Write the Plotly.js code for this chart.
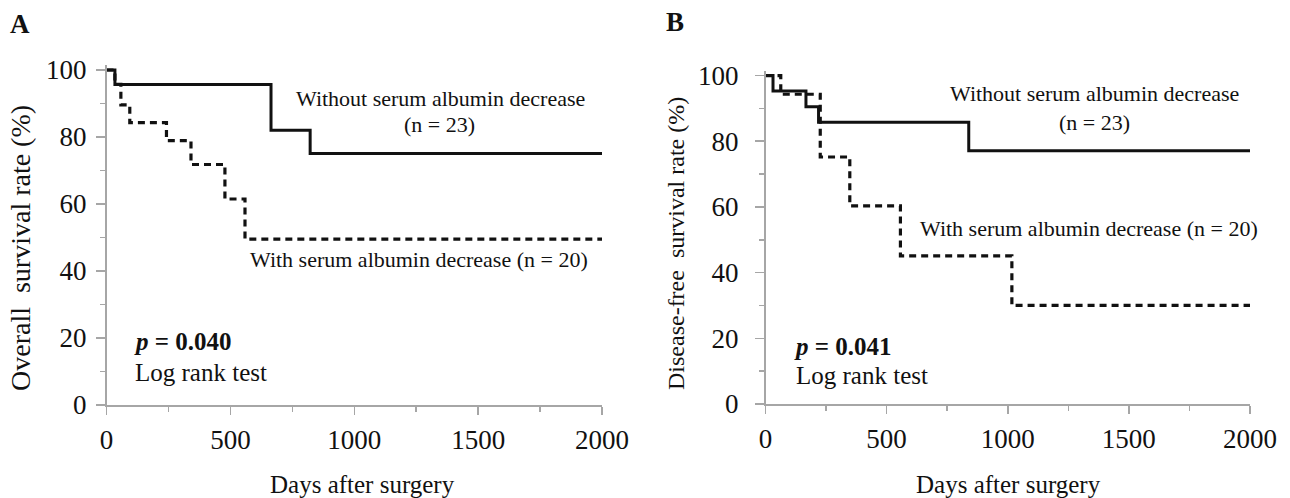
<!DOCTYPE html>
<html>
<head>
<meta charset="utf-8">
<script src="https://cdn.plot.ly/plotly-3.0.1.min.js"></script>
<style>html,body{margin:0;padding:0;background:#fff;}#chart{width:1290px;height:498px;}</style>
</head>
<body>
<div id="chart"></div>
<script>
// Panel A: overall survival (Kaplan-Meier step points: day of event, survival % after event)
const osWithoutDays = [0, 34, 664, 822, 2000];
const osWithoutRate = [100, 95.7, 82.0, 75.1, 75.1];
const osWithDays = [0, 34, 58, 94, 242, 341, 478, 559, 2000];
const osWithRate = [100, 95.7, 89.6, 84.3, 78.9, 71.8, 61.5, 49.5, 49.5];

// Panel B: disease-free survival
const dfsWithoutDays = [0, 31, 167, 219, 839, 2000];
const dfsWithoutRate = [100, 95.3, 90.5, 85.8, 77.1, 77.1];
const dfsWithDays = [0, 63, 226, 348, 557, 1017, 2000];
const dfsWithRate = [100, 94.3, 75.2, 60.3, 45.1, 30.0, 30.0];

const xTicks = [0, 500, 1000, 1500, 2000];
const yTicks = [0, 20, 40, 60, 80, 100];

const labelWithout = "Without serum albumin decrease";
const labelWithoutN = "(n = 23)";
const labelWith = "With serum albumin decrease (n = 20)";
const pValueA = "0.040";
const pValueB = "0.041";

const SERIF = "Liberation Serif";
const INK = "#111111";

function solid(x, y, xa, ya) {
  return {x: x, y: y, xaxis: xa, yaxis: ya, mode: "lines", type: "scatter",
    line: {shape: "hv", color: INK, width: 3}, hoverinfo: "skip", showlegend: false};
}
function dashed(x, y, xa, ya) {
  return {x: x, y: y, xaxis: xa, yaxis: ya, mode: "lines", type: "scatter",
    line: {shape: "hv", color: INK, width: 3.2, dash: "7px,5px"}, hoverinfo: "skip", showlegend: false};
}

const data = [
  dashed(osWithDays, osWithRate, "x", "y"),
  solid(osWithoutDays, osWithoutRate, "x", "y"),
  dashed(dfsWithDays, dfsWithRate, "x2", "y2"),
  solid(dfsWithoutDays, dfsWithoutRate, "x2", "y2")
];

function xAxis(domain, anchor) {
  return {domain: domain, anchor: anchor, range: [0, 2000], tickmode: "array", tickvals: xTicks,
    ticktext: xTicks.map(String),
    ticks: "outside", ticklen: 8, tickwidth: 1.5, tickcolor: "#a6a6a6",
    minor: {dtick: 250, tick0: 0, ticks: "outside", ticklen: 5, tickwidth: 1.5, tickcolor: "#a6a6a6"},
    showline: true, linecolor: "#a6a6a6", linewidth: 1.5, showgrid: false, zeroline: false,
    ticklabelstandoff: 2,
    tickfont: {family: SERIF, size: 27, color: INK}, fixedrange: true};
}
function yAxis(domain, anchor, standoff) {
  return {domain: domain, anchor: anchor, range: [0, 101.5], tickmode: "array", tickvals: yTicks,
    ticktext: yTicks.map(String),
    ticks: "outside", ticklen: 9, tickwidth: 1.5, tickcolor: "#a6a6a6",
    minor: {dtick: 10, tick0: 0, ticks: "outside", ticklen: 5, tickwidth: 1.5, tickcolor: "#a6a6a6"},
    showline: true, linecolor: "#a6a6a6", linewidth: 1.5, showgrid: false, zeroline: false,
    ticklabelstandoff: standoff,
    tickfont: {family: SERIF, size: 27, color: INK}, fixedrange: true};
}

function txt(text, x, y, xref, yref, size, opts) {
  return Object.assign({text: text, x: x, y: y, xref: xref, yref: yref, showarrow: false,
    xanchor: "center", yanchor: "middle", font: {family: SERIF, size: size, color: INK}}, opts || {});
}

const annotations = [
  txt("<b>A</b>", 20/1290, 1 - 24/498, "paper", "paper", 27),
  txt("<b>B</b>", 675/1290, 1 - 22/498, "paper", "paper", 27),
  // axis titles
  txt("Overall  survival rate (%)", 20/1290, 1 - 248/498, "paper", "paper", 28, {textangle: -90}),
  txt("Disease-free  survival rate (%)", 676/1290, 1 - 244/498, "paper", "paper", 24, {textangle: -90}),
  txt("Days after surgery", 362/1290, 1 - 484/498, "paper", "paper", 25),
  txt("Days after surgery", 1008/1290, 1 - 484/498, "paper", "paper", 25),
  // panel A labels
  txt(labelWithout, 1347, 91.6, "x", "y", 22),
  txt(labelWithoutN, 1343, 83.6, "x", "y", 22),
  txt(labelWith, 1263, 43.3, "x", "y", 22),
  txt("<b><i>p</i> = " + pValueA + "</b>", 103, 18.9, "x", "y", 25, {xanchor: "left"}),
  txt("Log rank test", 107, 9.6, "x", "y", 25, {xanchor: "left"}),
  // panel B labels
  txt(labelWithout, 1360, 94.4, "x2", "y2", 22),
  txt(labelWithoutN, 1360, 85.7, "x2", "y2", 22),
  txt(labelWith, 1335, 53.4, "x2", "y2", 22),
  txt("<b><i>p</i> = " + pValueB + "</b>", 109, 17.4, "x2", "y2", 25, {xanchor: "left"}),
  txt("Log rank test", 118, 8.7, "x2", "y2", 25, {xanchor: "left"})
];

const layout = {
  width: 1290, height: 498,
  margin: {l: 0, r: 0, t: 0, b: 0, pad: 0},
  paper_bgcolor: "#ffffff", plot_bgcolor: "#ffffff",
  showlegend: false,
  font: {family: SERIF, color: INK, size: 27},
  xaxis: xAxis([106.5/1290, 602/1290], "y"),
  yaxis: yAxis([1 - 405/498, 1 - 65/498], "x", 4),
  xaxis2: xAxis([765.5/1290, 1250/1290], "y2"),
  yaxis2: yAxis([1 - 404/498, 1 - 70.6/498], "x2", 11),
  annotations: annotations
};

Plotly.newPlot("chart", data, layout, {staticPlot: true, displayModeBar: false});
</script>
</body>
</html>
